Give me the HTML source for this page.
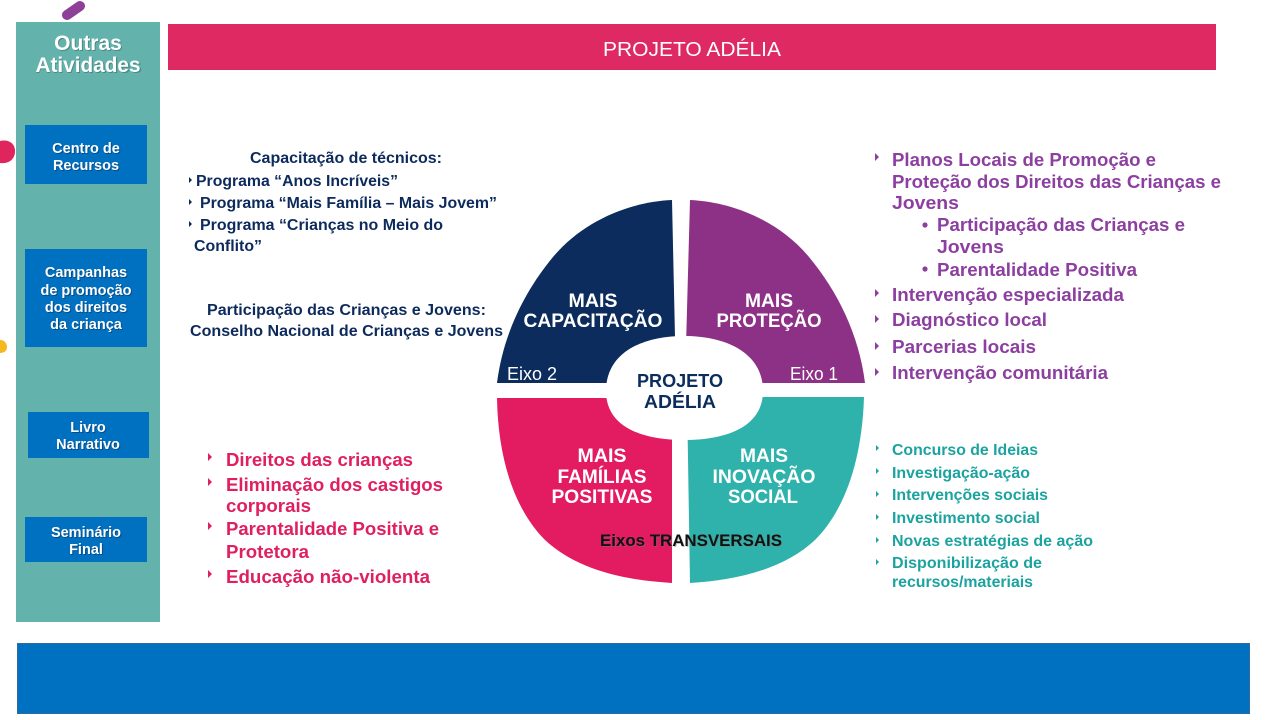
<!DOCTYPE html>
<html>
<head>
<meta charset="utf-8">
<style>
html,body{margin:0;padding:0;background:#fff;}
svg{display:block;}
text{font-family:"Liberation Sans",Arial,sans-serif;}
.b{font-weight:bold;}
</style>
</head>
<body>
<svg width="1280" height="720" viewBox="0 0 1280 720" xmlns="http://www.w3.org/2000/svg">
<rect x="0" y="0" width="1280" height="720" fill="#ffffff"/>

<!-- decorative blobs -->
<line x1="67" y1="15" x2="80" y2="6" stroke="#8e3f97" stroke-width="10" stroke-linecap="round"/>
<path d="M0,141 C8,139 15,143 15,151 C15,160 8,164 0,163 Z" fill="#e0245e"/>
<path d="M0,340 C5,340 7,344 7,347 C7,351 4,353 0,353 Z" fill="#f7b81f"/>

<!-- sidebar -->
<rect x="16" y="22" width="144" height="600" fill="#63b2ac"/>
<g class="b" font-size="21" text-anchor="middle">
<text x="89" y="51" fill="#3a6e6a" opacity="0.6">Outras</text>
<text x="89" y="73" fill="#3a6e6a" opacity="0.6">Atividades</text>
<text x="88" y="50" fill="#ffffff">Outras</text>
<text x="88" y="72" fill="#ffffff" textLength="105" lengthAdjust="spacingAndGlyphs">Atividades</text>
</g>

<rect x="25" y="125" width="122" height="59" fill="#0070c0"/>
<rect x="25" y="249" width="122" height="98" fill="#0070c0"/>
<rect x="28" y="412" width="121" height="46" fill="#0070c0"/>
<rect x="25" y="517" width="122" height="45" fill="#0070c0"/>

<g class="b" font-size="14.5" text-anchor="middle">
<g fill="#0a3d6e" opacity="0.7" transform="translate(1,1)">
<text x="86" y="153">Centro de</text>
<text x="86" y="170">Recursos</text>
<text x="86" y="277">Campanhas</text>
<text x="86" y="295">de promoção</text>
<text x="86" y="312">dos direitos</text>
<text x="86" y="329">da criança</text>
<text x="88" y="432">Livro</text>
<text x="88" y="449">Narrativo</text>
<text x="86" y="537">Seminário</text>
<text x="86" y="554">Final</text>
</g>
<g fill="#ffffff">
<text x="86" y="153">Centro de</text>
<text x="86" y="170">Recursos</text>
<text x="86" y="277">Campanhas</text>
<text x="86" y="295">de promoção</text>
<text x="86" y="312">dos direitos</text>
<text x="86" y="329">da criança</text>
<text x="88" y="432">Livro</text>
<text x="88" y="449">Narrativo</text>
<text x="86" y="537">Seminário</text>
<text x="86" y="554">Final</text>
</g>
</g>

<!-- header -->
<rect x="168" y="24" width="1048" height="46" fill="#df2962"/>
<text x="692" y="56" font-size="20" fill="#ffffff" text-anchor="middle" textLength="178" lengthAdjust="spacingAndGlyphs">PROJETO ADÉLIA</text>

<!-- bottom bar -->
<rect x="17.5" y="643.5" width="1232" height="70" fill="#0070c0" stroke="#2f6aa0" stroke-width="1"/>

<!-- diagram quadrants -->
<path d="M672,200 C628,202 582,222 553,257 C524,292 503,335 497,383 L676,383 Z" fill="#0b2c5c"/>
<path d="M690,200 C734,202 780,222 809,257 C838,292 859,335 865,383 L685,383 Z" fill="#8d3186"/>
<path d="M497,398 C498,460 515,510 545,540 C575,568 620,580 672,583 L672,398 Z" fill="#e31b60"/>
<path d="M864,397 C862,460 845,510 815,540 C785,568 740,580 690,583 L687,397 Z" fill="#2fb2ab"/>
<!-- center hole -->
<path d="M606,391 C606,354 640,336 684,336 C728,336 763,354 763,391 C763,426 728,440 684,440 C640,440 606,426 606,391 Z" fill="#ffffff"/>

<!-- quadrant labels -->
<g class="b" font-size="19" fill="#ffffff" text-anchor="middle">
<text x="593" y="307" textLength="49" lengthAdjust="spacingAndGlyphs">MAIS</text>
<text x="593" y="327" textLength="139" lengthAdjust="spacingAndGlyphs">CAPACITAÇÃO</text>
<text x="769" y="307" textLength="48" lengthAdjust="spacingAndGlyphs">MAIS</text>
<text x="769" y="327" textLength="105" lengthAdjust="spacingAndGlyphs">PROTEÇÃO</text>
<text x="602" y="462" textLength="49" lengthAdjust="spacingAndGlyphs">MAIS</text>
<text x="602" y="483" textLength="89" lengthAdjust="spacingAndGlyphs">FAMÍLIAS</text>
<text x="602" y="503" textLength="101" lengthAdjust="spacingAndGlyphs">POSITIVAS</text>
<text x="764" y="462" textLength="48" lengthAdjust="spacingAndGlyphs">MAIS</text>
<text x="764" y="483" textLength="103" lengthAdjust="spacingAndGlyphs">INOVAÇÃO</text>
<text x="763" y="503" textLength="70" lengthAdjust="spacingAndGlyphs">SOCIAL</text>
</g>
<g class="b" font-size="18" fill="#0b2c5c" text-anchor="middle">
<text x="680" y="387" textLength="86" lengthAdjust="spacingAndGlyphs">PROJETO</text>
<text x="680" y="408" textLength="72" lengthAdjust="spacingAndGlyphs">ADÉLIA</text>
</g>
<g font-size="18.5" fill="#ffffff">
<text x="507" y="380" textLength="50" lengthAdjust="spacingAndGlyphs">Eixo 2</text>
<text x="790" y="380" textLength="48" lengthAdjust="spacingAndGlyphs">Eixo 1</text>
</g>
<text x="601" y="547" class="b" font-size="17" fill="#7a7a7a" opacity="0.45" textLength="182" lengthAdjust="spacingAndGlyphs">Eixos TRANSVERSAIS</text>
<text x="600" y="546" class="b" font-size="17" fill="#111111" textLength="182" lengthAdjust="spacingAndGlyphs">Eixos TRANSVERSAIS</text>

<!-- left navy text -->
<g class="b" font-size="15.5" fill="#0d2a5c">
<text x="250" y="163" textLength="192" lengthAdjust="spacingAndGlyphs">Capacitação de técnicos:</text>
<text x="196" y="186" textLength="202" lengthAdjust="spacingAndGlyphs">Programa “Anos Incríveis”</text>
<text x="200" y="208" textLength="297" lengthAdjust="spacingAndGlyphs">Programa “Mais Família – Mais Jovem”</text>
<text x="200" y="230" textLength="243" lengthAdjust="spacingAndGlyphs">Programa “Crianças no Meio do</text>
<text x="194" y="251" textLength="68" lengthAdjust="spacingAndGlyphs">Conflito”</text>
<text x="207" y="315" textLength="279" lengthAdjust="spacingAndGlyphs">Participação das Crianças e Jovens:</text>
<text x="190" y="336" textLength="313" lengthAdjust="spacingAndGlyphs">Conselho Nacional de Crianças e Jovens</text>
</g>
<g fill="#0d2a5c">
<polygon points="189,177 192,180 189,183"/>
<polygon points="189,199 192,202 189,205"/>
<polygon points="189,221 192,224 189,227"/>
</g>

<!-- right purple text -->
<g class="b" font-size="18.5" fill="#8c3fa0">
<text x="892" y="166" textLength="264" lengthAdjust="spacingAndGlyphs">Planos Locais de Promoção e</text>
<text x="892" y="188" textLength="329" lengthAdjust="spacingAndGlyphs">Proteção dos Direitos das Crianças e</text>
<text x="892" y="209" textLength="67" lengthAdjust="spacingAndGlyphs">Jovens</text>
<text x="937" y="231" textLength="248" lengthAdjust="spacingAndGlyphs">Participação das Crianças e</text>
<text x="937" y="253" textLength="67" lengthAdjust="spacingAndGlyphs">Jovens</text>
<text x="937" y="276" textLength="200" lengthAdjust="spacingAndGlyphs">Parentalidade Positiva</text>
<text x="892" y="301" textLength="232" lengthAdjust="spacingAndGlyphs">Intervenção especializada</text>
<text x="892" y="326" textLength="155" lengthAdjust="spacingAndGlyphs">Diagnóstico local</text>
<text x="892" y="353" textLength="144" lengthAdjust="spacingAndGlyphs">Parcerias locais</text>
<text x="892" y="379" textLength="216" lengthAdjust="spacingAndGlyphs">Intervenção comunitária</text>
</g>
<g fill="#8c3fa0">
<polygon points="875,153 879,157 875,161"/>
<circle cx="925" cy="225" r="2.6"/>
<circle cx="925" cy="269" r="2.6"/>
<polygon points="875,289 879,293 875,297"/>
<polygon points="875,315 879,319 875,323"/>
<polygon points="875,342 879,346 875,350"/>
<polygon points="875,368 879,372 875,376"/>
</g>

<!-- teal text -->
<g class="b" font-size="15.5" fill="#1ba39f">
<text x="892" y="455" textLength="146" lengthAdjust="spacingAndGlyphs">Concurso de Ideias</text>
<text x="892" y="478" textLength="138" lengthAdjust="spacingAndGlyphs">Investigação-ação</text>
<text x="892" y="500" textLength="156" lengthAdjust="spacingAndGlyphs">Intervenções sociais</text>
<text x="892" y="523" textLength="148" lengthAdjust="spacingAndGlyphs">Investimento social</text>
<text x="892" y="546" textLength="201" lengthAdjust="spacingAndGlyphs">Novas estratégias de ação</text>
<text x="892" y="568" textLength="150" lengthAdjust="spacingAndGlyphs">Disponibilização de</text>
<text x="892" y="587" textLength="141" lengthAdjust="spacingAndGlyphs">recursos/materiais</text>
</g>
<g fill="#1ba39f">
<polygon points="876,445 879,448 876,451"/>
<polygon points="876,468 879,471 876,474"/>
<polygon points="876,491 879,494 876,497"/>
<polygon points="876,514 879,517 876,520"/>
<polygon points="876,537 879,540 876,543"/>
<polygon points="876,559 879,562 876,565"/>
</g>

<!-- pink text -->
<g class="b" font-size="18.5" fill="#df1f5f">
<text x="226" y="466" textLength="187" lengthAdjust="spacingAndGlyphs">Direitos das crianças</text>
<text x="226" y="491" textLength="217" lengthAdjust="spacingAndGlyphs">Eliminação dos castigos</text>
<text x="226" y="512" textLength="85" lengthAdjust="spacingAndGlyphs">corporais</text>
<text x="226" y="535" textLength="213" lengthAdjust="spacingAndGlyphs">Parentalidade Positiva e</text>
<text x="226" y="558" textLength="83" lengthAdjust="spacingAndGlyphs">Protetora</text>
<text x="226" y="583" textLength="204" lengthAdjust="spacingAndGlyphs">Educação não-violenta</text>
</g>
<g fill="#df1f5f">
<polygon points="208,453 212,457 208,461"/>
<polygon points="208,478 212,482 208,486"/>
<polygon points="208,522 212,526 208,530"/>
<polygon points="208,570 212,574 208,578"/>
</g>
</svg>
</body>
</html>
